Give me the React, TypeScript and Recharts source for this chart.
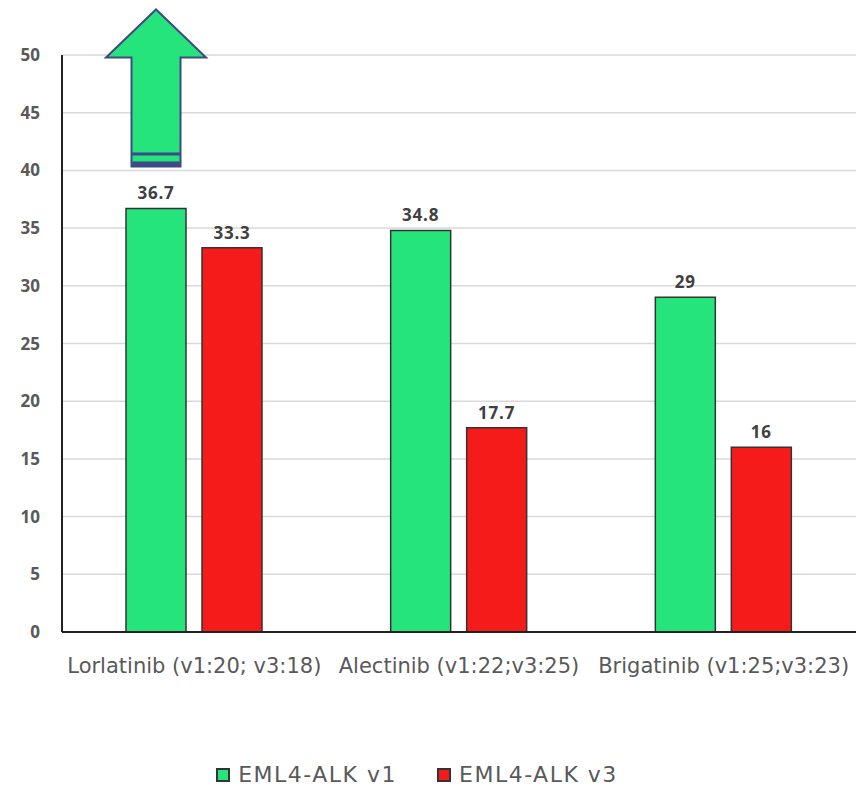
import { BarChart, Bar, XAxis, YAxis, CartesianGrid, Legend, LabelList } from 'recharts';

const drugs = ['Lorlatinib (v1:20; v3:18)', 'Alectinib (v1:22;v3:25)', 'Brigatinib (v1:25;v3:23)'];
const v1Values = [36.7, 34.8, 29];
const v3Values = [33.3, 17.7, 16];
const yTicks = [0, 5, 10, 15, 20, 25, 30, 35, 40, 45, 50];
const seriesNames = ['EML4-ALK v1', 'EML4-ALK v3'];

const GREEN = '#25e47c';
const RED = '#f51b1b';
const OUTLINE = '#3d4a86';

const data = drugs.map((name, i) => ({ name, v1: v1Values[i], v3: v3Values[i] }));

const FONT = "'Open Sans', 'Noto Sans', sans-serif";
const WIDE = "'DejaVu Sans', 'Open Sans', sans-serif";

const valueLabelStyle = { fill: '#404040', fontSize: 17, fontWeight: 700, fontFamily: FONT, letterSpacing: 0.8 };

function UpArrow(props: any) {
  const vb = props.viewBox ?? props;
  const x = Number(vb.x ?? props.x);
  const y = Number(vb.y ?? props.y);
  const w = Number(vb.width ?? props.width);
  const isFirst = props.index !== undefined ? props.index === 0 : props.value === v1Values[0];
  if (!isFirst || !isFinite(x) || !isFinite(y)) return null;
  const cx = x + w / 2;
  const bottom = y - 42;
  const shaft = 24.5;
  const head = 50;
  const headBase = bottom - 109;
  const tip = bottom - 157;
  const pts = [
    [cx - shaft, bottom],
    [cx - shaft, headBase],
    [cx - head, headBase],
    [cx, tip],
    [cx + head, headBase],
    [cx + shaft, headBase],
    [cx + shaft, bottom],
  ]
    .map((p) => p.join(','))
    .join(' ');
  return (
    <g>
      <polygon points={pts} fill={GREEN} stroke={OUTLINE} strokeWidth={2} strokeLinejoin="miter" />
      <rect x={cx - shaft} y={bottom - 14} width={shaft * 2} height={3} fill={OUTLINE} />
      <rect x={cx - shaft} y={bottom - 5} width={shaft * 2} height={5} fill={OUTLINE} />
    </g>
  );
}

function LegendContent() {
  const colors = [GREEN, RED];
  return (
    <div
      style={{
        display: 'flex',
        justifyContent: 'center',
        gap: 40,
        paddingRight: 24,
        fontFamily: WIDE,
        fontSize: 22,
        letterSpacing: 1.5,
        color: '#595959',
        lineHeight: '30px',
      }}
    >
      {seriesNames.map((n, i) => (
        <div key={n} style={{ display: 'flex', alignItems: 'center' }}>
          <span
            style={{
              display: 'inline-block',
              width: 10,
              height: 10,
              background: colors[i],
              border: '2px solid #333',
              marginRight: 8,
            }}
          />
          <span>{n}</span>
        </div>
      ))}
    </div>
  );
}

export default function App() {
  return (
    <div style={{ position: 'absolute', left: 0, top: 0, width: 858, height: 792, background: '#fff' }}>
      <BarChart
        width={858}
        height={792}
        data={data}
        margin={{ top: 55, right: 2, left: 0, bottom: 60 }}
        barCategoryGap={64}
        barGap={16}
      >
        <CartesianGrid vertical={false} stroke="#d9d9d9" strokeWidth={1.5} />
        <XAxis
          dataKey="name"
          height={70}
          tickLine={false}
          axisLine={{ stroke: '#222', strokeWidth: 2 }}
          tick={{ fill: '#595959', fontSize: 21, fontFamily: WIDE }}
          tickMargin={20}
          interval={0}
        />
        <YAxis
          domain={[0, 50]}
          ticks={yTicks}
          width={62}
          tickLine={false}
          tickSize={0}
          tickMargin={22}
          axisLine={{ stroke: '#222', strokeWidth: 2 }}
          tick={{ fill: '#595959', fontSize: 17, fontWeight: 700, fontFamily: FONT }}
        />
        <Legend
          verticalAlign="bottom"
          height={30}
          wrapperStyle={{ top: 760, left: 0, width: 858 }}
          content={<LegendContent />}
        />
        <Bar dataKey="v1" name={seriesNames[0]} fill={GREEN} stroke="#333" strokeWidth={1.5} isAnimationActive={false}>
          <LabelList dataKey="v1" position="top" offset={9} style={valueLabelStyle} />
          <LabelList dataKey="v1" content={<UpArrow />} />
        </Bar>
        <Bar dataKey="v3" name={seriesNames[1]} fill={RED} stroke="#333" strokeWidth={1.5} isAnimationActive={false}>
          <LabelList dataKey="v3" position="top" offset={9} style={valueLabelStyle} />
        </Bar>
      </BarChart>
    </div>
  );
}
